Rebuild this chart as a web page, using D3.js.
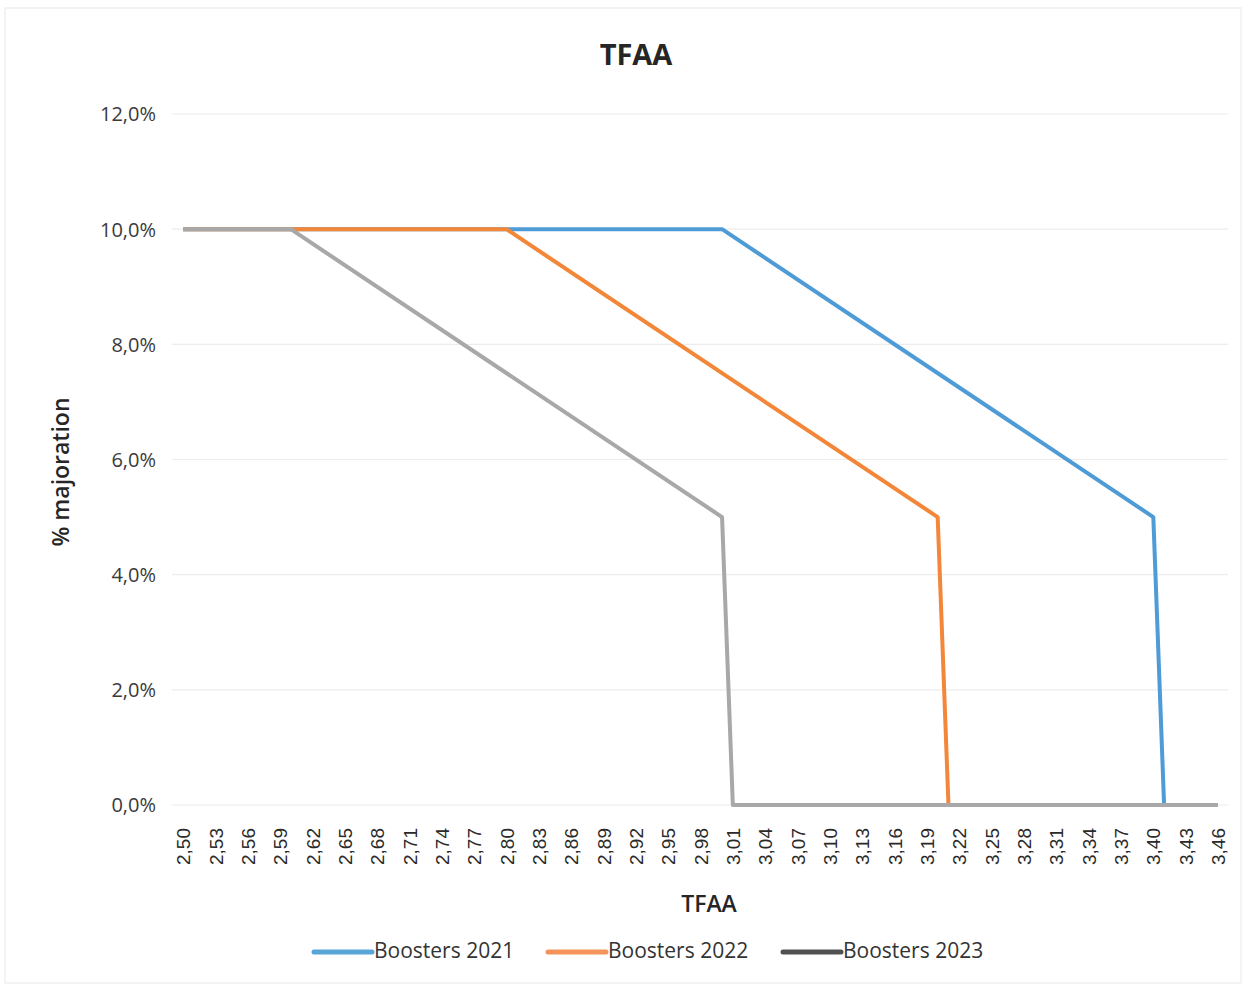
<!DOCTYPE html>
<html>
<head>
<meta charset="utf-8">
<script src="https://cdn.jsdelivr.net/npm/d3@7"></script>
<style>
  body { margin: 0; background: #fff; }
  text { font-family: "Open Sans", "Noto Sans", sans-serif; }
</style>
</head>
<body>
<svg id="chart" width="1246" height="987"></svg>
<script>
// x tick labels (TFAA), every 0.03
const xTicks = [2.50, 2.53, 2.56, 2.59, 2.62, 2.65, 2.68, 2.71, 2.74, 2.77, 2.80,
  2.83, 2.86, 2.89, 2.92, 2.95, 2.98, 3.01, 3.04, 3.07, 3.10, 3.13, 3.16, 3.19,
  3.22, 3.25, 3.28, 3.31, 3.34, 3.37, 3.40, 3.43, 3.46];
const yTicks = [0, 2, 4, 6, 8, 10, 12];

// break points of each series (TFAA, % majoration)
const tfaa2021 = [2.50, 2.80, 3.00, 3.40, 3.41, 3.46];
const maj2021 = [10, 10, 10, 5, 0, 0];
const tfaa2022 = [2.50, 2.60, 2.80, 3.20, 3.21, 3.46];
const maj2022 = [10, 10, 10, 5, 0, 0];
const tfaa2023 = [2.50, 2.60, 3.00, 3.01, 3.46];
const maj2023 = [10, 10, 5, 0, 0];

const seriesNames = ['Boosters 2021', 'Boosters 2022', 'Boosters 2023'];
const lineColours = ['#4f9bd6', '#f2873a', '#a8a8a8'];
const legendColours = ['#5aa5d8', '#f4935a', '#505050'];

const series = [
  { name: seriesNames[0], xs: tfaa2021, ys: maj2021 },
  { name: seriesNames[1], xs: tfaa2022, ys: maj2022 },
  { name: seriesNames[2], xs: tfaa2023, ys: maj2023 }
];

const svg = d3.select('#chart');
const plotLeft = 183, plotRight = 1218, plotTop = 114, plotBottom = 805;

const x = d3.scaleLinear().domain([2.50, 3.46]).range([plotLeft, plotRight]);
const y = d3.scaleLinear().domain([0, 12]).range([plotBottom, plotTop]);

// faint chart border
svg.append('rect')
  .attr('x', 5).attr('y', 8).attr('width', 1236).attr('height', 975)
  .attr('fill', 'none').attr('stroke', '#f0f0f0').attr('stroke-width', 1.5);

// gridlines
svg.append('g')
  .selectAll('line')
  .data(yTicks)
  .enter()
    .append('line')
    .attr('x1', 172).attr('x2', 1228)
    .attr('y1', d => y(d)).attr('y2', d => y(d))
    .attr('stroke', '#ececec')
    .attr('stroke-width', 1.2);

// y axis labels
const fmtPct = d => d3.format('.1f')(d).replace('.', ',') + '%';
svg.append('g')
  .selectAll('text')
  .data(yTicks)
  .enter()
    .append('text')
    .attr('x', 156)
    .attr('y', d => y(d) + 2)
    .attr('text-anchor', 'end')
    .attr('dominant-baseline', 'middle')
    .style('font-size', '20px')
    .style('fill', '#3a3a3a')
    .text(fmtPct);

// x axis labels, rotated
const xAxis = d3.axisBottom(x)
  .tickValues(xTicks)
  .tickSize(0)
  .tickFormat(d => d3.format('.2f')(d).replace('.', ','));
const gx = svg.append('g')
  .attr('transform', 'translate(0,' + (plotBottom + 23) + ')')
  .call(xAxis);
gx.select('.domain').remove();
gx.selectAll('text')
  .attr('transform', 'rotate(-90)')
  .attr('x', 0).attr('y', 0).attr('dx', 0).attr('dy', '0.35em')
  .style('text-anchor', 'end')
  .style('font-size', '19px')
  .style('font-family', '"Liberation Sans", Arial, sans-serif')
  .style('fill', '#2a2a2a');

// lines
const line = d3.line()
  .x(d => x(d[0]))
  .y(d => y(d[1]));

svg.append('g')
  .selectAll('path')
  .data(series)
  .enter()
    .append('path')
    .attr('d', s => line(s.xs.map((v, i) => [v, s.ys[i]])))
    .attr('fill', 'none')
    .attr('stroke', (s, i) => lineColours[i])
    .attr('stroke-width', 4)
    .attr('stroke-linejoin', 'round');

// titles
svg.append('text')
  .attr('x', 636).attr('y', 65)
  .attr('text-anchor', 'middle')
  .style('font-size', '29px').style('font-weight', 'bold')
  .style('fill', '#262626')
  .text('TFAA');

svg.append('text')
  .attr('x', 709).attr('y', 912)
  .attr('text-anchor', 'middle')
  .style('font-size', '23px').style('font-weight', '600')
  .style('fill', '#262626')
  .text('TFAA');

svg.append('text')
  .attr('transform', 'translate(69,472) rotate(-90)')
  .attr('text-anchor', 'middle')
  .style('font-size', '23px').style('font-weight', '600')
  .style('fill', '#262626')
  .text('% majoration');

// legend
const legendX = [314, 548, 783];
const legend = svg.append('g')
  .selectAll('g')
  .data(seriesNames)
  .enter()
    .append('g')
    .attr('transform', (d, i) => 'translate(' + legendX[i] + ',952)');
legend.append('line')
  .attr('x1', 0).attr('x2', 58)
  .attr('y1', 0).attr('y2', 0)
  .attr('stroke', (d, i) => legendColours[i])
  .attr('stroke-width', 5)
  .attr('stroke-linecap', 'round');
legend.append('text')
  .attr('x', 60).attr('y', 0)
  .attr('dominant-baseline', 'middle')
  .style('font-size', '21px')
  .style('fill', '#333')
  .text(d => d);
</script>
</body>
</html>
